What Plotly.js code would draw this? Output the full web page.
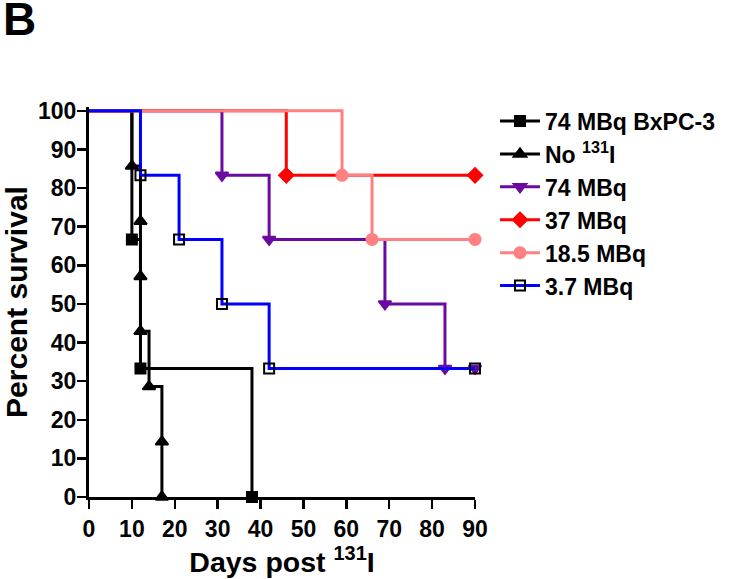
<!DOCTYPE html>
<html><head><meta charset="utf-8">
<script src="https://cdn.plot.ly/plotly-3.0.1.min.js"></script>
<style>html,body{margin:0;padding:0;background:#fff}#chart{width:750px;height:579px}</style>
</head><body><div id="chart"></div>
<script>
// Data (Kaplan-Meier steps: day, percent survival)
const seriesNames = ['74 MBq BxPC-3', 'No <sup>131</sup>I', '74 MBq', '37 MBq', '18.5 MBq', '3.7 MBq'];
const bxpcDays = [0, 10, 12, 38];
const bxpcSurvival = [100, 66.7, 33.3, 0];
const noIodineDays = [0, 10, 12, 12, 12, 14, 17, 17];
const noIodineSurvival = [100, 85.7, 71.4, 57.1, 42.9, 28.6, 14.3, 0];
const mbq74Days = [0, 31, 42, 69, 83, 90];
const mbq74Survival = [100, 83.3, 66.7, 50, 33.3, 33.3];
const mbq37Days = [0, 46, 90];
const mbq37Survival = [100, 83.3, 83.3];
const mbq18Days = [0, 59, 66, 90];
const mbq18Survival = [100, 83.3, 66.7, 66.7];
const mbq3Days = [0, 12, 21, 31, 42, 90];
const mbq3Survival = [100, 83.3, 66.7, 50, 33.3, 33.3];
const xTicks = [0, 10, 20, 30, 40, 50, 60, 70, 80, 90];
const yTicks = [0, 10, 20, 30, 40, 50, 60, 70, 80, 90, 100];

const allDays = [bxpcDays, noIodineDays, mbq74Days, mbq37Days, mbq18Days, mbq3Days];
const allSurv = [bxpcSurvival, noIodineSurvival, mbq74Survival, mbq37Survival, mbq18Survival, mbq3Survival];
const styles = [
  {color: '#000000', symbol: 'square', size: 10, mcolor: '#000000'},
  {color: '#000000', symbol: 'triangle-up', size: 11, mcolor: '#000000'},
  {color: '#6a0aa0', symbol: 'triangle-down', size: 11, mcolor: '#6a0aa0'},
  {color: '#ff0000', symbol: 'diamond', size: 11, mcolor: '#ff0000'},
  {color: '#ff8080', symbol: 'circle', size: 11, mcolor: '#ff8080'},
  {color: '#0000ff', symbol: 'square-open', size: 10, mcolor: '#000000'}
];

const FONT = 'Liberation Sans, Arial, Helvetica, sans-serif';
const traces = [];
allDays.forEach((d, i) => {
  const s = allSurv[i], st = styles[i];
  traces.push({
    x: d.slice(0, 2), y: s.slice(0, 2), mode: 'lines', type: 'scatter',
    line: {color: st.color, width: 3, shape: 'hv'}, showlegend: false, hoverinfo: 'skip'
  });
  traces.push({
    x: d.slice(1), y: s.slice(1), mode: 'lines+markers', type: 'scatter', name: seriesNames[i],
    line: {color: st.color, width: 3, shape: 'hv'},
    marker: {symbol: st.symbol, size: st.size, color: st.mcolor, line: {width: 2, color: st.mcolor}},
    cliponaxis: false, hoverinfo: 'skip'
  });
});

const layout = {
  width: 750, height: 579,
  margin: {l: 89, r: 275, t: 107, b: 82},
  paper_bgcolor: '#fff', plot_bgcolor: '#fff',
  font: {family: FONT, color: '#000', weight: 'bold'},
  showlegend: true,
  legend: {
    xref: 'container', yref: 'container', x: 0.66, y: 0.828, xanchor: 'left', yanchor: 'top',
    font: {family: FONT, size: 23, color: '#000', weight: 'bold'},
    bgcolor: 'rgba(0,0,0,0)', borderwidth: 0, itemwidth: 40, tracegroupgap: 0
  },
  xaxis: {
    range: [0, 90], tickvals: xTicks, ticks: 'outside', ticklen: 9, tickwidth: 2.5, tickcolor: '#000',
    showline: true, linewidth: 3, linecolor: '#000', showgrid: false, zeroline: false,
    tickfont: {family: FONT, size: 23, weight: 'bold'},
    title: {text: 'Days post <sup>131</sup>I', font: {family: FONT, size: 28.5, weight: 'bold'}, standoff: 8}
  },
  yaxis: {
    range: [0, 101], tickvals: yTicks, ticks: 'outside', ticklen: 9, tickwidth: 2.5, tickcolor: '#000',
    showline: true, linewidth: 3, linecolor: '#000', showgrid: false, zeroline: false,
    ticklabelstandoff: -4,
    tickfont: {family: FONT, size: 23, weight: 'bold'},
    title: {text: 'Percent survival', font: {family: FONT, size: 30, weight: 'bold'}, standoff: 12}
  },
  annotations: [{
    text: 'B', xref: 'paper', yref: 'paper', x: -0.228, y: 1.298, xanchor: 'left', yanchor: 'top',
    showarrow: false, font: {family: FONT, size: 46, weight: 'bold', color: '#000'}
  }]
};

Plotly.newPlot('chart', traces, layout, {staticPlot: true, displayModeBar: false});
</script>
</body></html>
